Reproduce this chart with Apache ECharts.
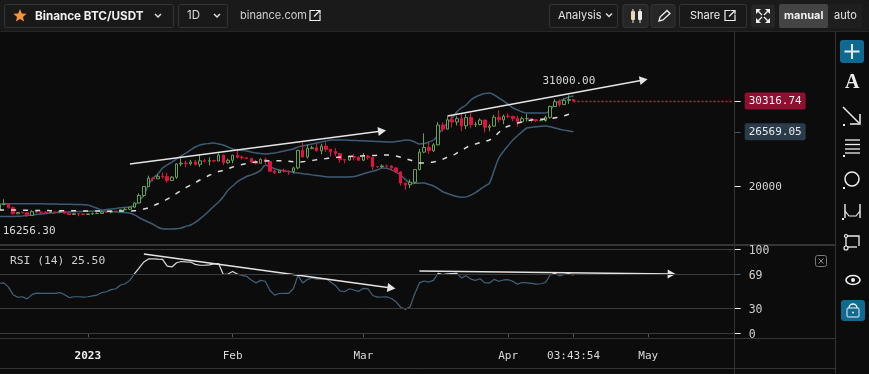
<!DOCTYPE html>
<html><head><meta charset="utf-8">
<style>html,body{margin:0;padding:0;background:#0c0c0c}#c{width:869px;height:374px}</style>
<script src="https://cdn.jsdelivr.net/npm/echarts@6/dist/echarts.min.js"></script>
</head><body><div id="c"></div>
<script>
// Dates Dec 13 2022 .. Apr 15 2023 (124 daily candles), then empty future days
const opens=[17100,17780,17815,17365,16630,16775,16740,16440,16895,16825,16820,16780,16835,16830,16920,16705,16545,16635,16600,
16540,16615,16670,16670,16850,16830,16950,16940,17120,17175,17440,17940,18850,19930,20955,20875,21185,21135,20675,21070,22670,22775,22705,22915,22630,23060,23010,23075,23030,23745,22825,
23125,23735,23490,23430,23325,22935,22760,23245,22965,21795,21625,21860,21785,21775,22195,24330,23520,24570,24630,24280,24840,24450,24190,23945,23190,23155,23555,23490,
23130,23625,23465,22355,22345,22430,22410,22195,21705,20360,20155,20455,21995,24115,24670,24285,24995,27395,26910,28040,27770,28170,27305,28300,27455,27460,28000,27130,27265,28350,28030,
28465,28450,28200,27790,28170,28175,28040,27925,27945,28335,29650,30235,29885,30395,30485];
const closes=[17780,17815,17365,16630,16775,16740,16440,16895,16825,16820,16780,16835,16830,16920,16705,16545,16635,16600,16540,
16615,16670,16670,16850,16830,16950,16940,17120,17175,17440,17940,18850,19930,20955,20875,21185,21135,20675,21070,22670,22775,22705,22915,22630,23060,23010,23075,23030,23745,22825,23125,
23735,23490,23430,23325,22935,22760,23245,22965,21795,21625,21860,21785,21775,22195,24330,23520,24570,24630,24280,24840,24450,24190,23945,23190,23155,23555,23490,23130,
23625,23465,22355,22345,22430,22410,22195,21705,20360,20155,20455,21995,24115,24670,24285,24995,27395,26910,28040,27770,28170,27305,28300,27455,27460,28000,27130,27265,28350,28030,28465,
28450,28200,27790,28170,28175,28040,27925,27945,28335,29650,30235,29885,30395,30485,30316.74];
const lows=[17080,17650,17275,16525,16600,16700,16270,16400,16700,16560,16760,16790,16660,16790,16590,16470,16510,16330,16470,
16500,16540,16625,16660,16750,16675,16910,16910,17100,17145,17315,17900,18700,19880,20550,20850,20900,20400,20660,20860,22420,22290,22500,22460,22300,22850,22500,22880,23000,22550,22700,
22760,23360,23210,23270,22750,22630,22750,22680,21690,21450,21600,21630,21350,21520,22050,23500,23330,24450,24200,23830,24140,23570,23600,22840,22750,23070,23100,23030,
23020,23200,21970,22200,22200,22270,21920,21580,20040,19550,19750,20270,21900,23970,23900,24120,24930,26600,26880,27100,27350,26650,26900,27000,27160,27350,26500,26650,27260,27700,27500,
28250,27860,27200,27660,27820,27710,27780,27880,27800,28170,29600,29620,29880,29970,30230];
const highs=[18000,18390,17850,17520,16800,16875,16810,17060,16920,16870,16955,16870,16865,16945,16970,16785,16665,16645,16635,
16625,16760,16775,16990,16885,16990,16965,17175,17390,17490,18000,19100,19970,21260,21040,21440,21650,21600,21190,22750,23370,23080,23170,23160,23815,23280,23500,23180,23950,23800,23320,
23800,24250,23700,23450,23430,23160,23350,23450,23010,21950,21900,22090,21890,22325,24370,25250,25020,24870,25190,25120,25280,24480,24600,23880,23210,23690,23880,23600,
24000,23780,23480,22420,22610,22600,22550,22270,21800,20370,20790,22040,24500,26390,25250,25200,27750,27720,28440,28500,28470,28800,28700,28830,27800,28200,28030,27500,28650,29170,28660,
28800,28520,28500,28440,28770,28190,28100,28180,28530,29770,30550,30500,30620,31000,30550];
const bbMid=[17090,17085,17080,17075,17070,17060,17050,17040,17030,17020,17015,17010,17005,17000,16995,16990,16985,16980,16975,16970,16965,16960,16955,16950,16950,16950,16955,16960,
16970,17000,17100,17200,17350,17600,17850,18100,18400,18750,19100,19450,19800,
20100,20400,20730,21000,21300,21550,21750,21900,22100,22300,
22480,22600,22720,22830,22920,23000,23040,23070,23080,23070,
23040,23000,22950,22910,22950,23020,23100,23180,23260,23330,
23400,23450,23500,23540,23580,23620,23640,23660,23680,23700,
23720,23740,23760,23740,23650,23500,23320,23150,22960,22790,
22800,22860,22910,23050,23250,23500,23640,24000,24300,24650,
24950,25100,25260,25420,25580,25950,26500,27040,27250,27450,
27650,27780,27900,28010,28050,28090,28130,28150,28280,28375,28520,28700,28860];
const bbUpper=[17820,17830,17840,17850,17850,17850,17850,17850,17840,17840,17830,17820,17810,17800,17790,17780,17770,17750,17730,17700,
17500,17300,17100,17150,17200,17280,17350,17400,
17450,17650,18200,18900,20120,20970,21450,22180,22550,22910,23280,23640,24000,24370,24730,24980,25100,25160,25220,25100,24980,24730,24490,
24370,24310,24250,24130,24000,23950,23880,23950,24000,24130,24250,24370,24490,24730,24850,24980,25100,25220,25340,25460,
25580,25580,25590,25570,25550,25520,25500,25480,25460,25420,25400,25380,25350,25340,25400,25460,25580,25550,25340,25100,
25150,25340,25580,26190,27040,27650,28250,28980,29470,29830,30440,30800,31050,31230,31290,31050,30680,30320,29950,29470,
29230,28980,28860,28860,28860,28860,28870,29230,29950,30320,30560,30800,30930];
const bbLower=[16300,16300,16300,16310,16330,16370,16420,16480,16540,16600,16660,
16720,16760,16790,16820,16850,16880,16900,16920,16940,16950,16965,
16960,16940,16900,16860,16820,16770,16720,
16500,16150,15870,15600,15350,15000,14800,14780,14780,
14800,14900,15100,15270,15600,16000,16480,
17000,17550,18060,18700,19500,20000,20500,20850,21150,21350,21580,21900,22550,22300,22100,21940,
21850,21750,21650,21580,21500,21430,21350,21280,21200,21130,21090,21080,21080,21080,21090,21150,21300,21480,21650,21800,
21950,22190,22150,21950,21700,21300,20800,20360,20340,20340,20360,20200,20000,19680,19300,19100,18900,18720,18650,18680,
18900,19200,19600,20000,20360,21900,23400,24200,24900,25580,26100,26600,27040,27130,27200,27250,27280,27200,27050,26900,26780,26680,26569.05];
const rsi=[59.5,60,55,46,42.8,43.5,41,46,47.8,47.5,47.5,47.5,47.5,48.5,46,42.5,43.5,43.5,43,43.5,44.5,45.5,48.5,49.5,52,53,57.5,59,
63,71,78,85,88.5,88.7,88.3,88,80,79,84,85.5,85,84.8,82,81,81,81.5,82.5,83,70,70.5,73.5,70.5,69,67.8,63.5,59.8,63,62,51,45.5,47.4,47.6,47.6,53,
69,60,64,66,64.5,64.5,65,61,57,50.5,49.5,53,51.5,50,53.5,52.8,45,43,43.2,43.5,41.5,37.5,31,29,31.5,47,60,62.3,61,63,71.5,70,70.8,71.2,71.4,66,68.5,
64.5,63,65,60,60,64.2,62,63.5,63.8,62,58.5,60.5,60,59.5,58.6,59,60.5,69.4,71.4,68.2,70,71.2,69];
const priceTicks=[20000,30316.74];
const bandTick=[26569.05];
const rsiTicks=[0,30,100];
const rsiMidTick=[70];
const rsiLevels=[100,70,30,0];
const xTickLabels={'2023-01-01':'2023','2023-02-01':'Feb','2023-03-01':'Mar','2023-04-01':'Apr','2023-04-15':'03:43:54','2023-05-01':'May'};
const highNote=31000.00, lowNote=16256.30, lastPrice=30316.74;
const trendA=[[28,22670],[82,26677]];
const trendB=[[96,28495],[138,32870]];
const rsiTrendA=[[31,94.4],[84,53.9]];
const rsiTrendB=[[90,74.2],[144,70.6]];

const categories=[];
(function(){const s=Date.UTC(2022,11,13);for(let i=0;i<158;i++){categories.push(new Date(s+i*864e5).toISOString().slice(0,10));}})();
const candles=closes.map((c,i)=>[opens[i],c,lows[i],highs[i]]);

const MONO='"DejaVu Sans Mono",monospace', UI='Inter,Roboto,sans-serif';
const LINE='#343434', TXT='#d6d6d6', STEEL='#3d5c73', RED='#e5103f', GREEN='#64a24b';
const isTick=(i,v)=>!!xTickLabels[v];

// ---- UI chrome ----
const g=[];
const rect=(x,y,w,h,fill,stroke,r)=>g.push({type:'rect',silent:true,shape:{x,y,width:w,height:h,r:r||2},style:{fill:fill||'transparent',stroke:stroke||null,lineWidth:1}});
const line=(x1,y1,x2,y2,c,w)=>g.push({type:'line',silent:true,shape:{x1,y1,x2,y2},style:{stroke:c||'#eee',lineWidth:w||1}});
const poly=(pts,c,w)=>g.push({type:'polyline',silent:true,shape:{points:pts},style:{stroke:c||'#eee',lineWidth:w||1.4,fill:null}});
const text=(t,x,y,o)=>g.push({type:'text',silent:true,x,y,style:Object.assign({text:t,fill:'#e6e6e6',font:'12px '+UI,textVerticalAlign:'middle'},o||{})});
const chevron=(x,y)=>poly([[x-3,y-1.5],[x,y+1.5],[x+3,y-1.5]],'#ddd',1.5);
const ext=(x,y,s)=>{poly([[x+s*0.55,y],[x,y],[x,y+s],[x+s,y+s],[x+s,y+s*0.45]],'#eee',1.2);poly([[x+s*0.4,y+s*0.6],[x+s,y]],'#eee',1.2);poly([[x+s*0.6,y],[x+s,y],[x+s,y+s*0.4]],'#eee',1.2);};
rect(0,0,869,31,'#1a1a1a',null,0);
line(0,31.5,869,31.5,'#262626');
rect(4.5,4.5,169,23,'#191919',LINE);
rect(178.5,4.5,49,23,'#191919',LINE);
(function(){const pts=[];for(let i=0;i<10;i++){const r=i%2?3.1:6.9,a=-Math.PI/2+i*Math.PI/5;pts.push([20+r*Math.cos(a),16+r*Math.sin(a)]);}
g.push({type:'polygon',silent:true,shape:{points:pts},style:{fill:'#f7943a'}});})();
text('Binance BTC/USDT',35,16,{font:'700 11.7px '+UI,fill:'#f0f0f0'});
chevron(158,15.5);
text('1D',187,16,{font:'11.5px '+UI,fill:'#ddd'});
chevron(217,15.5);
text('binance.com',240,16,{font:'11px '+UI,fill:'#cfcfcf'});
ext(310,10.5,10);
rect(549.5,4.5,68,23,'#191919',LINE);
text('Analysis',558,16,{font:'11px '+UI,fill:'#e2e2e2'});
chevron(609,15);
rect(623,4.5,25,23,'#262626',LINE);
line(633,9,633,23,'#eee',1);rect(631,11,4,9,'#e8d9b0',null,1);
line(640,9,640,23,'#eee',1);rect(638,11,4,9,'#e8e8e8',null,1);
rect(651,4.5,24,23,'#262626',LINE);
g.push({type:'polygon',silent:true,shape:{points:[[659,21],[660,17],[667,10.5],[670,13.5],[663,20]]},style:{stroke:'#eee',lineWidth:1.3,fill:null}});
rect(679.5,4.5,67,23,'#191919',LINE);
text('Share',690,15.5,{font:'11px '+UI,fill:'#eee'});
ext(725,10.5,10);
rect(751,4.5,24,23,'#262626',null);
[[756,9,1,1],[770,9,-1,1],[756,23,1,-1],[770,23,-1,-1]].forEach(p=>{const [x,y,a,b]=p;
 g.push({type:'polygon',silent:true,shape:{points:[[x,y],[x+5*a,y],[x,y+5*b]]},style:{fill:'#eee'}});line(x+2*a,y+2*b,x+6*a,y+6*b,'#eee',1.2);});
rect(779,4,83,24,'#1f1f1f',null);
rect(779,4,49,24,'#444',null);
text('manual',784,16,{font:'700 11px '+UI,fill:'#eee'});
text('auto',834,16,{font:'11px '+UI,fill:'#e6e6e6'});

// frame lines
line(734.5,31,734.5,374,LINE);
line(835.5,31,835.5,374,LINE);
line(0,245,835,245,LINE,2);
line(0,338.5,835,338.5,LINE);
line(0,368.5,835,368.5,LINE);
// RSI caption and close box
text('RSI (14) 25.50',10,261,{font:'11.3px '+MONO,fill:'#cfcfcf'});
rect(815.5,255.5,11,11,null,'#777',0);
line(818.5,258.5,823.5,263.5,'#888');line(823.5,258.5,818.5,263.5,'#888');

// right toolbar
rect(840,40,24,23,'#0f6a92',null,3);
line(852,44,852,59,'#e8e8e8',2);line(844.5,51.5,859.5,51.5,'#e8e8e8',2);
text('A',845,83,{font:'700 20px "Liberation Serif","DejaVu Serif",serif',fill:'#eee'});
line(843,107,859,123,'#eee',1.5);poly([[860,114],[860,124],[850,124]],'#eee',1.5);
g.push({type:'rect',silent:true,shape:{x:843,y:124,width:2,height:2},style:{fill:'#eee'}});
[140,144.5,149,153].forEach(y=>line(845,y,860,y,'#eee',1.3));
g.push({type:'rect',silent:true,shape:{x:843,y:155,width:2,height:2},style:{fill:'#eee'}});
g.push({type:'circle',silent:true,shape:{cx:852,cy:179,r:7},style:{stroke:'#eee',lineWidth:1.5,fill:null}});
g.push({type:'rect',silent:true,shape:{x:843,y:187,width:2,height:2},style:{fill:'#eee'}});
line(845,204,845,218,'#eee',1.4);line(860,204,860,218,'#eee',1.4);
poly([[845,211],[849,216],[856,216],[860,211]],'#eee',1.2);
g.push({type:'rect',silent:true,shape:{x:842,y:218,width:2,height:2},style:{fill:'#eee'}});
poly([[846,236],[859,236],[859,246]],'#eee',1.3);line(846,236,846,246,'#eee',1.3);line(846,247,857,247,'#eee',1.3);
g.push({type:'circle',silent:true,shape:{cx:846,cy:248,r:2},style:{stroke:'#eee',lineWidth:1.2,fill:'#0c0c0c'}});
g.push({type:'circle',silent:true,shape:{cx:846,cy:236,r:1.5},style:{stroke:'#eee',lineWidth:1.2,fill:'#0c0c0c'}});
g.push({type:'ellipse',silent:true,shape:{cx:853,cy:280,rx:7,ry:4.5},style:{stroke:'#eee',lineWidth:1.6,fill:null}});
g.push({type:'circle',silent:true,shape:{cx:853,cy:280,r:2},style:{fill:'#eee'}});
rect(841,300,24,21,'#0f6a92',null,3);
rect(847,308,12,9,null,'#eee',1);
g.push({type:'arc',silent:true,shape:{cx:853,cy:308,r:4,startAngle:Math.PI,endAngle:0},style:{stroke:'#eee',lineWidth:1.5,fill:null}});
g.push({type:'circle',silent:true,shape:{cx:853,cy:312.5,r:1},style:{fill:'#eee'}});

const arrowLine=(seg)=>[{coord:seg[0],symbol:'none'},{coord:seg[1],symbol:'triangle',symbolSize:[9,8]}];
const mkAxisY=(grid,min,max,values,fmt,tickColor)=>({
 type:'value',gridIndex:grid,position:'right',min,max,scale:true,
 axisLine:{show:false},splitLine:{show:false},
 axisTick:{show:true,customValues:values,length:6,lineStyle:{color:tickColor,width:1}},
 axisLabel:{show:true,customValues:values,formatter:fmt,margin:10,fontFamily:MONO,fontSize:11,color:TXT,hideOverlap:false,
  rich:{red:{backgroundColor:'#8f0f30',color:'#f0f0f0',fontFamily:MONO,fontSize:11,padding:[3,4,3,4],borderRadius:2},
        steel:{backgroundColor:'#2a3b49',color:'#eaeaea',fontFamily:MONO,fontSize:11,padding:[3,4,3,4],borderRadius:2},
        plain:{color:'#d6d6d6',fontFamily:MONO,fontSize:11,padding:[2,0,0,4]},
        plainb:{color:'#cfcfcf',fontFamily:MONO,fontSize:11.5,padding:[3,0,0,4]}}}
});
const PMIN=13083,PMAX=38932;
const option={
 animation:false,backgroundColor:'#0c0c0c',
 grid:[{left:-3.23,top:30,width:737.9,height:213,outerBoundsMode:'none'},{left:-3.23,top:249.3,width:737.9,height:84,outerBoundsMode:'none'}],
 xAxis:[
  {type:'category',gridIndex:0,data:categories,axisLine:{show:false},axisTick:{show:false},axisLabel:{show:false},splitLine:{show:false}},
  {type:'category',gridIndex:1,data:categories,position:'bottom',offset:5,axisLine:{show:false},
   axisTick:{show:true,alignWithLabel:true,interval:isTick,length:4,lineStyle:{color:'#555'}},
   axisLabel:{show:true,interval:isTick,margin:12,hideOverlap:false,
    formatter:v=>v==='2023-01-01'?'{b|2023}':'{n|'+xTickLabels[v]+'}',
    rich:{b:{fontFamily:MONO,fontWeight:'bold',fontSize:11,color:'#eee'},n:{fontFamily:MONO,fontSize:11,color:'#d8d8d8'}}},
   splitLine:{show:false}}
 ],
 yAxis:[
  mkAxisY(0,PMIN,PMAX,priceTicks,v=>v===lastPrice?'{red|30316.74}':'{plain|20000}','#eee'),
  mkAxisY(0,PMIN,PMAX,bandTick,()=>'{steel|26569.05}',STEEL),
  mkAxisY(1,0,100,rsiTicks,v=>'{plainb|'+v+'}','#eee'),
  mkAxisY(1,0,100,rsiMidTick,()=>'{plainb|69}',STEEL)
 ],
 visualMap:[{show:false,type:'piecewise',seriesIndex:4,dimension:1,
   pieces:[{gt:70,color:'#d8d8d8'},{gte:30,lte:70,color:'#426178'},{lt:30,color:'#d8d8d8'}]}],
 series:[
  {name:'Upper',type:'line',data:bbUpper,xAxisIndex:0,yAxisIndex:0,showSymbol:false,smooth:0.3,z:2,lineStyle:{color:STEEL,width:1.5}},
  {name:'Lower',type:'line',data:bbLower,xAxisIndex:0,yAxisIndex:0,showSymbol:false,smooth:0.3,z:2,lineStyle:{color:STEEL,width:1.5}},
  {name:'BTC/USDT',type:'candlestick',data:candles,xAxisIndex:0,yAxisIndex:0,barWidth:3,z:3,
   itemStyle:{color:'#0c0c0c',color0:RED,borderColor:GREEN,borderColor0:RED,borderWidth:1},
   markPoint:{silent:true,symbol:'circle',symbolSize:0,
    data:[
     {coord:[122,highNote],label:{show:true,formatter:highNote.toFixed(2),offset:[0,-14],fontFamily:MONO,fontSize:11,color:'#d8d8d8'}},
     {coord:[6,lowNote],label:{show:true,formatter:lowNote.toFixed(2),offset:[2,14],fontFamily:MONO,fontSize:11,color:'#d8d8d8'}}
    ]},
   markLine:{silent:true,symbol:'none',label:{show:false},lineStyle:{color:RED,type:[2,2],width:1.4},
    data:[[{coord:[123,lastPrice]},{coord:[157,lastPrice]}]]}},
  {name:'Mid',type:'line',data:bbMid,xAxisIndex:0,yAxisIndex:0,showSymbol:false,smooth:0.3,z:4,lineStyle:{color:'#dcdcdc',width:1.5,type:[5,7]},
   markLine:{silent:true,label:{show:false},lineStyle:{color:'#e4e4e4',type:'solid',width:1.5},
    data:[arrowLine(trendA),arrowLine(trendB)]}},
  {name:'RSI',type:'line',data:rsi,xAxisIndex:1,yAxisIndex:2,showSymbol:false,z:4,lineStyle:{width:1.2},
   markLine:{silent:true,label:{show:false},lineStyle:{color:'#e4e4e4',type:'solid',width:1.5},
    data:[arrowLine(rsiTrendA),arrowLine(rsiTrendB)]}},
  {name:'Levels',type:'line',data:[],xAxisIndex:1,yAxisIndex:2,z:1,
   markLine:{silent:true,symbol:'none',label:{show:false},lineStyle:{color:'#3a3a3a',type:'solid',width:1},
    data:rsiLevels.map(v=>({yAxis:v}))}}
 ],
 graphic:g
};
echarts.init(document.getElementById('c')).setOption(option);
</script></body></html>
